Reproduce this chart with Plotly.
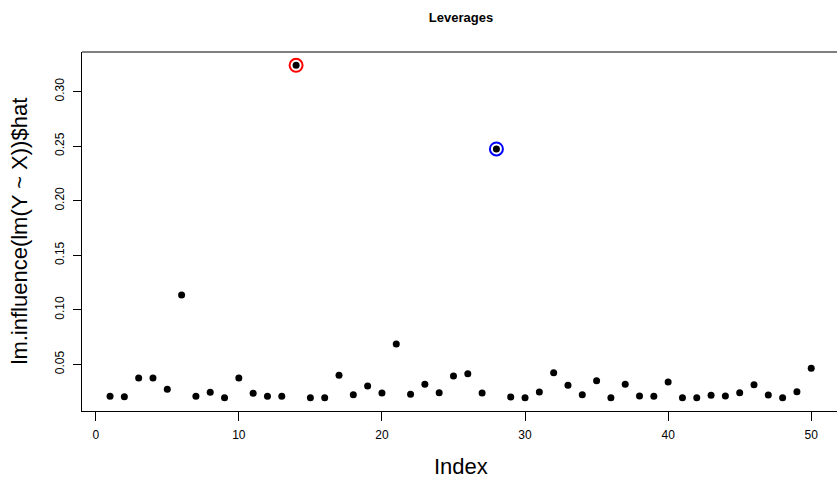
import plotly.graph_objects as go

index = list(range(1, 51))
hat = [0.0207, 0.0203, 0.0375, 0.0375, 0.0271, 0.1135, 0.0207, 0.0244, 0.0194, 0.0375,
       0.0234, 0.0207, 0.0207, 0.3241, 0.0194, 0.0194, 0.0399, 0.0222, 0.0301, 0.0237,
       0.0686, 0.0225, 0.0317, 0.0240, 0.0393, 0.0414, 0.0237, 0.2474, 0.0200, 0.0194,
       0.0246, 0.0423, 0.0307, 0.0222, 0.0350, 0.0194, 0.0317, 0.0210, 0.0207, 0.0338,
       0.0194, 0.0194, 0.0216, 0.0210, 0.0240, 0.0313, 0.0219, 0.0194, 0.0249, 0.0463]
highlight_idx = [14, 28]
highlight_colors = ["#FF0000", "#0000FF"]

x_ticks = [0, 10, 20, 30, 40, 50]
y_ticks = [0.05, 0.10, 0.15, 0.20, 0.25, 0.30]
y_tick_labels = ["0.05", "0.10", "0.15", "0.20", "0.25", "0.30"]

FONT = "Liberation Sans, Arial, Helvetica, sans-serif"

fig = go.Figure()
fig.add_trace(go.Scatter(x=index, y=hat, mode="markers",
                         marker=dict(color="black", size=7, symbol="circle"),
                         showlegend=False, hoverinfo="x+y"))
for i, c in zip(highlight_idx, highlight_colors):
    fig.add_trace(go.Scatter(x=[i], y=[hat[i - 1]], mode="markers",
                             marker=dict(symbol="circle-open", size=13, color=c,
                                         line=dict(color=c, width=2)),
                             showlegend=False, hoverinfo="skip"))

W, H = 837, 479
L, R, T, B = 82, 0, 52, 68
pw = W - L - R
cx = (461 - L) / pw

fig.update_layout(
    width=W, height=H,
    margin=dict(l=L, r=R, t=T, b=B),
    plot_bgcolor="white", paper_bgcolor="white",
    font=dict(family=FONT, color="black", size=12),
    title=dict(text="<b>Leverages</b>", x=461 / W, xref="container", xanchor="center",
               y=1 - 17 / H, yref="container", yanchor="middle",
               font=dict(family=FONT, size=13, color="black")),
    xaxis=dict(range=[-0.96, 51.8], tickmode="array", tickvals=x_ticks,
               ticks="outside", ticklen=9, tickcolor="black", tickwidth=1,
               ticklabelstandoff=4,
               showline=True, linecolor="black", linewidth=1, mirror=False,
               showgrid=False, zeroline=False, tickfont=dict(size=12)),
    yaxis=dict(range=[0.0072, 0.3363], tickmode="array", tickvals=y_ticks,
               ticktext=y_tick_labels, tickangle=-90,
               ticks="outside", ticklen=8, tickcolor="black", tickwidth=1,
               ticklabelstandoff=4,
               showline=True, linecolor="black", linewidth=1, mirror=False,
               showgrid=False, zeroline=False, tickfont=dict(size=12)),
    shapes=[dict(type="line", xref="paper", yref="paper", x0=0, x1=1, y0=1, y1=1,
                 line=dict(color="black", width=1))],
    annotations=[
        dict(text="Index", xref="paper", yref="paper", x=cx, y=0, yshift=-55,
             xanchor="center", yanchor="middle", showarrow=False,
             font=dict(family=FONT, size=22, color="black")),
        dict(text="lm.influence(lm(Y ~ X))$hat", xref="paper", yref="paper",
             x=(19 - L) / pw, y=0.5, textangle=-90, xanchor="center", yanchor="middle",
             showarrow=False, font=dict(family=FONT, size=22, color="black")),
    ],
)

fig.write_html("out.html")
